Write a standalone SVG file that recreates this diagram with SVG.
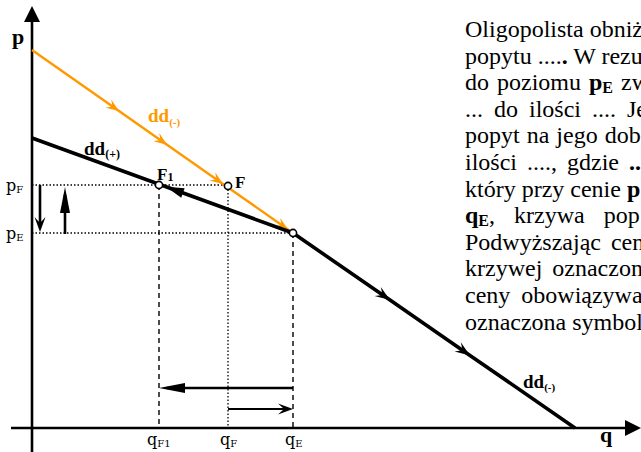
<svg xmlns="http://www.w3.org/2000/svg" width="641" height="452" viewBox="0 0 641 452">
<style>
 .ax{stroke:#000;stroke-width:2.6;fill:none}
 .dd{stroke:#000;stroke-width:3.6;fill:none}
 .or{stroke:#FF9900;stroke-width:2.4;fill:none}
 .dash{stroke:#000;stroke-width:1.4;stroke-dasharray:5 4;fill:none}
 .dot{stroke:#000;stroke-width:1.3;stroke-dasharray:1.5 2;fill:none}
 .arr{stroke:#000;stroke-width:2.6;fill:none}
 .arr2{stroke:#000;stroke-width:2.2;fill:none}
 .pt{fill:#fff;stroke:#000;stroke-width:1.6}
 .lbl{font-family:"Liberation Serif","Times New Roman",serif;font-weight:bold}
 .sym{font-family:"DejaVu Serif",serif;fill:#000}
 .txt{font-family:"Liberation Serif","Times New Roman",serif;font-size:24px;fill:#000}
 .b{font-weight:bold}
</style>
<defs>
 <marker id="chevO" markerUnits="userSpaceOnUse" viewBox="-16 -8 18 16" markerWidth="18" markerHeight="16" refX="0" refY="0" orient="auto" overflow="visible"><path d="M0,0 L-13,-5 L-8,0 L-13,5 Z" fill="#FF9900"/></marker>
 <marker id="chevK" markerUnits="userSpaceOnUse" viewBox="-16 -8 18 16" markerWidth="18" markerHeight="16" refX="0" refY="0" orient="auto" overflow="visible"><path d="M0,0 L-15,-5.5 L-9,0 L-15,5.5 Z" fill="#000"/></marker>
 <marker id="chevKe" markerUnits="userSpaceOnUse" viewBox="-16 -8 24 16" markerWidth="24" markerHeight="16" refX="0" refY="0" orient="auto" overflow="visible"><path d="M6,0 L-9,-5.5 L-3,0 L-9,5.5 Z" fill="#000"/></marker>
 <marker id="triK" markerUnits="userSpaceOnUse" viewBox="-20 -8 22 16" markerWidth="22" markerHeight="16" refX="0" refY="0" orient="auto" overflow="visible"><path d="M0,0 L-18,-5 L-18,5 Z" fill="#000"/></marker>
 <marker id="triKe" markerUnits="userSpaceOnUse" viewBox="-20 -8 30 16" markerWidth="30" markerHeight="16" refX="0" refY="0" orient="auto" overflow="visible"><path d="M8,0 L-18,-5 L-18,5 Z" fill="#000"/></marker>
</defs>

<g id="axes">
 <path class="ax" d="M32,452 V20"/>
 <polygon points="32,6 24,22 40,22" fill="#000"/>
 <path class="ax" d="M11,428 H626"/>
 <polygon points="641,428 625,420 625,436" fill="#000"/>
 <text class="lbl" x="12" y="44" font-size="22">p</text>
 <text class="lbl" x="600" y="442" font-size="22">q</text>
</g>

<g id="connectors">
 <path class="dot" d="M32,185 H228"/>
 <path class="dot" d="M32,233 H293"/>
 <path class="dash" d="M159,185 V428"/>
 <path class="dot" d="M228,186 V428"/>
 <path class="dash" d="M293,233 V428"/>
 <path class="arr" d="M40,185 V226" marker-end="url(#chevKe)"/>
 <path class="arr" d="M65,234 V195" marker-end="url(#triKe)"/>
 <path class="arr" d="M293,388 H167" marker-end="url(#triKe)"/>
 <path class="arr2" d="M228,409 H287" marker-end="url(#chevKe)"/>
</g>

<g id="curve-dd-minus-orange">
 <polyline class="or" points="32,50 119,111 167,144.66 223,183.92 288,229.5 293,233" marker-mid="url(#chevO)"/>
 <text class="lbl" x="148" y="122" font-size="19" fill="#FF9900">dd<tspan font-size="11" dy="4">(-)</tspan></text>
</g>

<g id="curve-dd-plus">
 <polyline class="dd" points="293,233 166,186.77 32,138" marker-mid="url(#triK)"/>
 <text class="lbl" x="84" y="155" font-size="19" fill="#000">dd<tspan font-size="12" dy="3">(+)</tspan></text>
</g>

<g id="curve-dd-minus">
 <polyline class="dd" points="293,233 390,300.07 470,355.4 575,428" marker-mid="url(#chevK)"/>
 <text class="lbl" x="523" y="388" font-size="19" fill="#000">dd<tspan font-size="11" dy="3">(-)</tspan></text>
</g>

<g id="point-F1">
 <circle class="pt" cx="159" cy="185" r="3.6"/>
 <text class="lbl" x="157" y="180" font-size="17" fill="#000">F<tspan font-size="12" dy="1">1</tspan></text>
</g>
<g id="point-F">
 <circle class="pt" cx="228" cy="186" r="3.6"/>
 <text class="lbl" x="235" y="188" font-size="17" fill="#000">F</text>
</g>
<g id="point-E">
 <circle class="pt" cx="293" cy="233" r="3.6"/>
</g>

<g id="price-labels">
 <text class="sym" x="6" y="191" font-size="16">p<tspan font-size="10" dy="2">F</tspan></text>
 <text class="sym" x="6" y="239" font-size="16">p<tspan font-size="10" dy="2">E</tspan></text>
</g>
<g id="quantity-labels">
 <text class="sym" x="147" y="445" font-size="16">q<tspan font-size="10" dy="2">F1</tspan></text>
 <text class="sym" x="220" y="445" font-size="16">q<tspan font-size="10" dy="2">F</tspan></text>
 <text class="sym" x="285" y="445" font-size="16">q<tspan font-size="10" dy="2">E</tspan></text>
</g>

<g id="description" class="txt">
 <text x="465" y="37">Oligopolista obniż</text>
 <text x="465" y="63.6">popytu ....<tspan class="b">.</tspan> W rezu</text>
 <text x="465" y="90.2" word-spacing="2">do poziomu <tspan class="b">p<tspan font-size="16" dy="3">E</tspan></tspan><tspan dy="-3"> zw</tspan></text>
 <text x="465" y="116.8" word-spacing="5">... do ilości .... Je</text>
 <text x="465" y="143.4" word-spacing="1">popyt na jego dob</text>
 <text x="465" y="170" word-spacing="4">ilości ...., gdzie <tspan class="b">..</tspan></text>
 <text x="465" y="196.6">który przy cenie <tspan class="b">p</tspan></text>
 <text x="465" y="223.2" word-spacing="13"><tspan class="b">q<tspan font-size="16" dy="3">E</tspan></tspan><tspan dy="-3">, krzywa pop</tspan></text>
 <text x="465" y="249.8" word-spacing="4">Podwyższając cen</text>
 <text x="465" y="276.4" word-spacing="4">krzywej oznaczon</text>
 <text x="465" y="303" word-spacing="5">ceny obowiązywa</text>
 <text x="465" y="329.6">oznaczona symbol</text>
</g>
</svg>
